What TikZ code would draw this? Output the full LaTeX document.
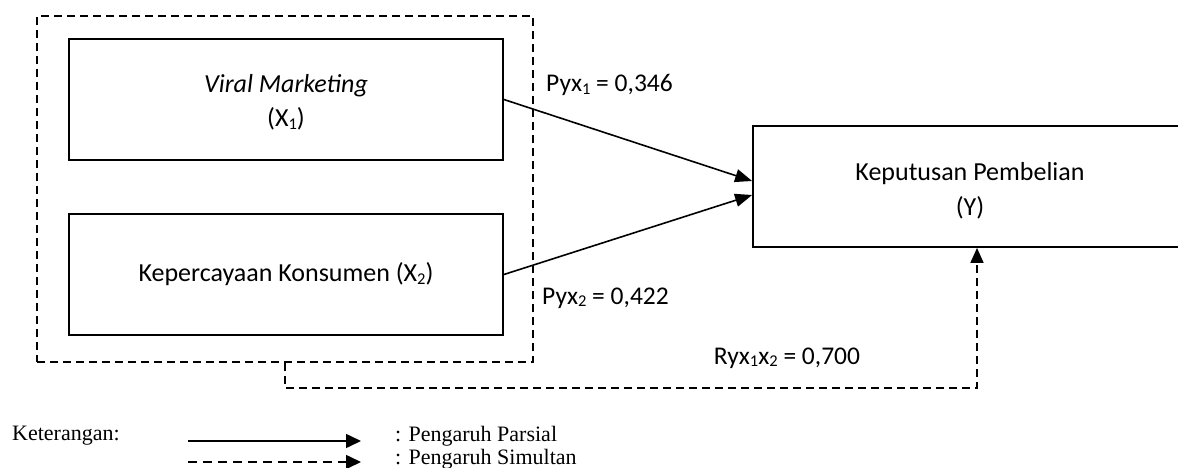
\documentclass[tikz,border=0pt]{standalone}
\usepackage{fontspec}
\setmainfont{Carlito}
\newfontfamily\legendfont{Liberation Serif}
\usetikzlibrary{arrows.meta}
\newcommand\sbs[1]{\raisebox{-2.5pt}{\fontsize{16.5}{16.5}\selectfont #1}}
\tikzset{
  varbox/.style={draw, line width=1.8pt, minimum width=434pt, minimum height=121pt,
    inner sep=0pt, align=center, font=\fontsize{26}{35}\selectfont},
  vtext/.style={inner sep=0pt, align=center, font=\fontsize{26}{35}\selectfont},
  grpbox/.style={draw, line width=1.7pt, dash pattern=on 8pt off 5pt,
    minimum width=496pt, minimum height=346pt, inner sep=0pt},
  parrow/.style={line width=1.6pt, -{Triangle[length=17pt,width=13pt]}},
  sarrow/.style={line width=1.7pt, dash pattern=on 8pt off 5pt, -{Triangle[length=15pt,width=13pt]}},
  lbl/.style={font=\fontsize{25.5}{30}\selectfont, inner sep=0pt},
  leg/.style={font=\legendfont\fontsize{22}{26}\selectfont, inner sep=0pt, anchor=west},
  legsolid/.style={line width=1.6pt, -{Triangle[length=15pt,width=14pt]}},
  legdash/.style={line width=1.6pt, dash pattern=on 9pt off 6pt, -{Triangle[length=15pt,width=14pt]}},
}
\begin{document}
\begin{tikzpicture}[x=1pt,y=-1pt]
\useasboundingbox (0,0) rectangle (1178,468);
\clip (0,0) rectangle (1178,468);
\fill[white] (0,0) rectangle (1178,468);
% group box
\node[grpbox] (grp) at (285,189) {};
% variable boxes
\node[varbox, label={[vtext, yshift=-3pt]center:{\textit{Viral Marketing}\\[-1pt](X\sbs{1})}}] (x1) at (286,99.5) {};
\node[varbox] (x2) at (286,274.5) {Kepercayaan Konsumen (X\sbs{2})};
\node[varbox, label={[vtext, yshift=-4pt]center:{Keputusan Pembelian\\(Y)}}] (y) at (970,186.5) {};
% partial arrows
\draw[parrow] (x1.east) -- ([yshift=5.5pt]y.west);
\draw[parrow] (x2.east) -- ([yshift=-8.5pt]y.west);
% simultaneous arrow
\draw[sarrow] (grp.south) -- ++(0,25) -| ([xshift=7pt]y.south);
% labels
\node[lbl, anchor=west] (p1) at (546,85) {Pyx\sbs{1} = 0,346};
\node[lbl, anchor=west] (p2) at (542,298) {Pyx\sbs{2} = 0,422};
\node[lbl] (r) at (787,358) {Ryx\sbs{1}x\sbs{2} = 0,700};
% legend
\node[leg] (ket) at (12,436) {Keterangan:};
\coordinate (ls1) at (188,441);
\coordinate (ls2) at (361,441);
\coordinate (ld1) at (188,462);
\coordinate (ld2) at (361,462);
\draw[legsolid] (ls1) -- (ls2);
\draw[legdash] (ld1) -- (ld2);
\node[leg] (lp) at (395,436) {: Pengaruh Parsial};
\node[leg] (lsim) at (395,459) {: Pengaruh Simultan};
\end{tikzpicture}
\end{document}
